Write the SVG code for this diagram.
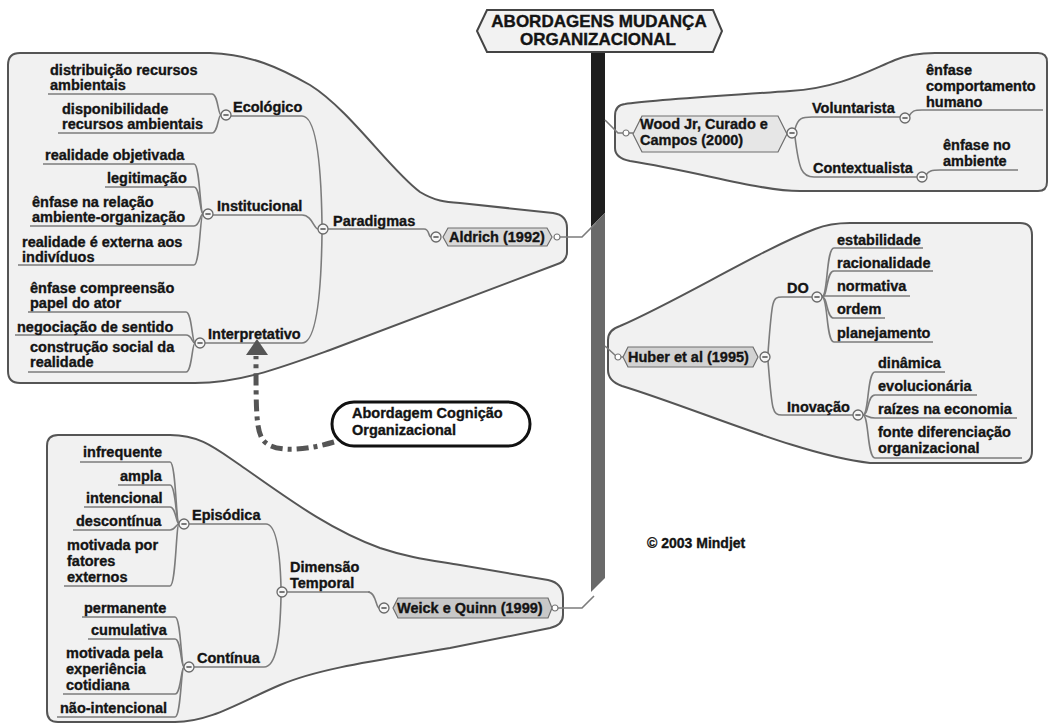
<svg xmlns="http://www.w3.org/2000/svg" width="1053" height="728" viewBox="0 0 1053 728">
<defs>
<style>
.t{font-family:"Liberation Sans",Arial,sans-serif;font-weight:bold;font-size:14.5px;fill:#141414;stroke:#141414;stroke-width:0.35}
.ttl{font-family:"Liberation Sans",Arial,sans-serif;font-weight:bold;font-size:17px;fill:#141414;stroke:#141414;stroke-width:0.4}
.grp{fill:#f1f1f1;stroke:#555;stroke-width:2}
.ln{fill:none;stroke:#7c7c7c;stroke-width:1.6}
.hex{stroke:#6e6e6e;stroke-width:1.2}
</style>
<g id="minus"><circle r="5" fill="#f6f6f6" stroke="#6a6a6a" stroke-width="1.3"/><line x1="-2.6" x2="2.6" stroke="#333" stroke-width="1.3"/></g>
<circle id="dot" r="3" fill="#fff" stroke="#777" stroke-width="1.2"/>
</defs>
<rect width="1053" height="728" fill="#fff"/>

<!-- group backgrounds -->
<g id="backgrounds">
<path class="grp" d="M 20,53 H 210 C 250,54 280,68 310,85 C 350,110 390,170 420,192 C 435,201 445,202 460,203 L 553,213 Q 567,215 567,228 V 252 Q 567,262 555,265 L 330,350 C 280,368 240,383 195,383 H 20 Q 8,383 8,371 V 65 Q 8,53 20,53 Z"/>
<path class="grp" d="M 625,104 C 650,100 720,96 790,91 C 840,88 870,70 895,60 C 907,55 918,53 935,53 H 1038 Q 1047,53 1047,62 V 182 Q 1047,191 1038,191 H 800 C 760,191 700,172 630,161 Q 615,158 615,148 V 116 Q 615,105 625,104 Z"/>
<path class="grp" d="M 620,326 C 680,300 760,250 815,229 Q 830,223 850,223 H 1020 Q 1032,223 1032,235 V 451 Q 1032,463 1020,463 H 870 C 800,455 700,410 622,386 Q 608,381 608,370 V 340 Q 608,330 620,326 Z"/>
<path class="grp" d="M 58,435 H 170 C 200,435 215,448 240,465 C 290,500 330,530 380,548 C 410,558 430,560 460,565 L 548,580 Q 563,583 563,598 V 615 Q 563,625 550,628 L 450,648 C 380,660 320,668 280,685 C 240,702 210,722 175,722 H 58 Q 47,722 47,711 V 446 Q 47,435 58,435 Z"/>
</g>

<!-- central trunk -->
<g id="trunk">
<polygon points="591,50 605,50 605,213 591,227" fill="#1e1e1e"/>
<polygon points="591,227 605,213 605,578 591,592" fill="#6a6a6a"/>
</g>

<g id="connectors" class="ln">
<!-- trunk links -->
<path d="M 560,237 H 582 L 596,223"/>
<path d="M 605,120 L 618,133 H 623"/>
<path d="M 605,346 L 616,356"/>
<path d="M 558,608 H 582 L 594,596"/>
<!-- Aldrich side -->
<path d="M 328,229 H 424 C 430,229 428,237 431,237"/>
<path d="M 231,116 H 302 C 314,116 321,150 322,224"/>
<path d="M 213,215 H 302 C 312,215 314,229 318,229"/>
<path d="M 205,343 H 302 C 314,343 321,310 322,234"/>
<path d="M 48,94 H 212 C 218,94 218,115 221,115"/>
<path d="M 58,133 H 212 C 218,133 218,115 221,115"/>
<path d="M 43,164 H 194 C 200,164 200,214 203,214"/>
<path d="M 105,187 H 194 C 200,187 200,214 203,214"/>
<path d="M 30,226 H 194 C 200,226 200,214 203,214"/>
<path d="M 18,265 H 194 C 200,265 200,214 203,214"/>
<path d="M 28,312 H 186 C 192,312 192,343 195,343"/>
<path d="M 15,335 H 186 C 192,335 192,343 195,343"/>
<path d="M 28,372 H 186 C 192,372 192,343 195,343"/>
<!-- Wood side -->
<path d="M 629,133 H 633"/>
<path d="M 795,129 C 798,118 802,117 812,117 H 900"/>
<path d="M 795,137 C 799,170 802,177 814,177 H 917"/>
<path d="M 909,116 C 912,111 914,110 922,110 H 1043"/>
<path d="M 926,175 C 929,171 931,170 940,170 H 1018"/>
<!-- Huber side -->
<path d="M 621,357 H 623"/>
<path d="M 768,353 C 772,300 772,297 782,297 H 812"/>
<path d="M 768,361 C 772,410 772,415 782,415 H 853"/>
<path d="M 822,297 C 828,297 826,248 834,248 H 923"/>
<path d="M 822,297 C 828,297 826,271 834,271 H 933"/>
<path d="M 822,296 H 910"/>
<path d="M 822,297 C 828,297 826,318 834,318 H 885"/>
<path d="M 822,297 C 828,297 826,342 834,342 H 933"/>
<path d="M 863,415 C 869,415 867,372 875,372 H 945"/>
<path d="M 863,415 C 869,415 867,395 875,395 H 977"/>
<path d="M 863,415 C 867,415 868,418 875,418 H 1017"/>
<path d="M 863,415 C 869,415 867,458 875,458 H 1022"/>
<!-- Weick side -->
<path d="M 368,592 C 376,592 376,608 379,608"/>
<path d="M 287,592 H 370"/>
<path d="M 189,524 H 266 C 276,524 280,550 281,587"/>
<path d="M 194,667 H 264 C 276,667 280,640 281,597"/>
<path d="M 80,462 H 170 C 176,462 176,524 179,524"/>
<path d="M 118,485 H 170 C 176,485 176,524 179,524"/>
<path d="M 84,507 H 170 C 176,507 176,524 179,524"/>
<path d="M 73,530 H 170 C 175,530 176,524 179,524"/>
<path d="M 64,586 H 170 C 176,586 176,524 179,524"/>
<path d="M 82,617 H 175 C 181,617 181,667 184,667"/>
<path d="M 88,639 H 175 C 181,639 181,667 184,667"/>
<path d="M 63,694 H 175 C 181,694 181,667 184,667"/>
<path d="M 57,717 H 175 C 181,717 181,667 184,667"/>
<!-- dashed relationship arrow -->
<path d="M 334,442 C 300,452 272,452 263,440 C 256,430 256,410 256,356" fill="none" stroke="#555" stroke-width="5" stroke-dasharray="12 5 4 5"/>
<polygon points="257,339 246,355 268,355" fill="#555" stroke="none"/>
</g>

<!-- title -->
<g id="title">
<polygon points="477,31 487,10 713,10 722,31 713,52 487,52" fill="#f2f2f2" stroke="#444" stroke-width="2"/>
<text class="ttl" x="599" y="27" text-anchor="middle">ABORDAGENS MUDANÇA</text>
<text class="ttl" x="598" y="45" text-anchor="middle">ORGANIZACIONAL</text>
</g>

<!-- Aldrich branch -->
<g id="aldrich">
<polygon class="hex" points="443,237 448,228 547,228 552,237 547,246 448,246" fill="#d8d8d8"/>
<text class="t" x="449" y="242">Aldrich (1992)</text>
<use href="#minus" x="436" y="237"/>
<use href="#dot" x="557" y="237"/>
</g>
<g id="paradigmas"><text class="t" x="333" y="226">Paradigmas</text><use href="#minus" x="323" y="229"/></g>
<g id="ecologico"><text class="t" x="233" y="112">Ecológico</text><use href="#minus" x="226" y="115"/></g>
<g id="distribuicao"><text class="t" x="50" y="75">distribuição recursos</text><text class="t" x="50" y="90">ambientais</text></g>
<g id="disponibilidade"><text class="t" x="62" y="114">disponibilidade</text><text class="t" x="62" y="129">recursos ambientais</text></g>
<g id="institucional"><text class="t" x="217" y="211">Institucional</text><use href="#minus" x="208" y="214"/></g>
<g id="realidade-objetivada"><text class="t" x="45" y="160">realidade objetivada</text></g>
<g id="legitimacao"><text class="t" x="107" y="183">legitimação</text></g>
<g id="enfase-relacao"><text class="t" x="32" y="207">ênfase na relação</text><text class="t" x="32" y="222">ambiente-organização</text></g>
<g id="realidade-externa"><text class="t" x="22" y="247">realidade é externa aos</text><text class="t" x="22" y="262">indivíduos</text></g>
<g id="interpretativo"><text class="t" x="208" y="339">Interpretativo</text><use href="#minus" x="200" y="343"/></g>
<g id="enfase-compreensao"><text class="t" x="30" y="293">ênfase compreensão</text><text class="t" x="30" y="308">papel do ator</text></g>
<g id="negociacao"><text class="t" x="17" y="332">negociação de sentido</text></g>
<g id="construcao"><text class="t" x="30" y="352">construção social da</text><text class="t" x="30" y="367">realidade</text></g>

<!-- Cognition bubble -->
<g id="cognicao">
<rect x="332" y="402" width="198" height="44" rx="22" fill="#fff" stroke="#111" stroke-width="3"/>
<text class="t" x="352" y="418">Abordagem Cognição</text>
<text class="t" x="352" y="435">Organizacional</text>
</g>

<!-- Wood branch -->
<g id="wood">
<polygon class="hex" points="633,134 642,116 778,116 787,134 778,152 642,152" fill="#e6e6e6"/>
<text class="t" x="640" y="129">Wood Jr, Curado e</text>
<text class="t" x="640" y="145">Campos (2000)</text>
<use href="#dot" x="626" y="133"/>
<use href="#minus" x="792" y="133"/>
</g>
<g id="voluntarista"><text class="t" x="812" y="113">Voluntarista</text><use href="#minus" x="905" y="118"/></g>
<g id="enfase-comportamento"><text class="t" x="926" y="75">ênfase</text><text class="t" x="926" y="91">comportamento</text><text class="t" x="926" y="107">humano</text></g>
<g id="contextualista"><text class="t" x="813" y="173">Contextualista</text><use href="#minus" x="922" y="177"/></g>
<g id="enfase-ambiente"><text class="t" x="943" y="150">ênfase no</text><text class="t" x="943" y="166">ambiente</text></g>

<!-- Huber branch -->
<g id="huber">
<polygon class="hex" points="623,357 628,347 753,347 758,357 753,367 628,367" fill="#d2d2d2"/>
<text class="t" x="628" y="362">Huber et al (1995)</text>
<use href="#dot" x="618" y="357"/>
<use href="#minus" x="765" y="357"/>
</g>
<g id="do"><text class="t" x="787" y="293">DO</text><use href="#minus" x="817" y="297"/></g>
<g id="estabilidade"><text class="t" x="837" y="245">estabilidade</text></g>
<g id="racionalidade"><text class="t" x="837" y="268">racionalidade</text></g>
<g id="normativa"><text class="t" x="837" y="291">normativa</text></g>
<g id="ordem"><text class="t" x="837" y="314">ordem</text></g>
<g id="planejamento"><text class="t" x="837" y="338">planejamento</text></g>
<g id="inovacao"><text class="t" x="787" y="412">Inovação</text><use href="#minus" x="858" y="415"/></g>
<g id="dinamica"><text class="t" x="878" y="368">dinâmica</text></g>
<g id="evolucionaria"><text class="t" x="878" y="391">evolucionária</text></g>
<g id="raizes"><text class="t" x="878" y="414">raízes na economia</text></g>
<g id="fonte"><text class="t" x="878" y="437">fonte diferenciação</text><text class="t" x="878" y="453">organizacional</text></g>

<!-- Weick branch -->
<g id="weick">
<polygon class="hex" points="393,608 398,598 548,598 552,608 548,618 398,618" fill="#c8c8c8"/>
<text class="t" x="397" y="613">Weick e Quinn (1999)</text>
<use href="#minus" x="384" y="608"/>
<use href="#dot" x="555" y="608"/>
</g>
<g id="dimensao"><text class="t" x="290" y="572">Dimensão</text><text class="t" x="290" y="588">Temporal</text><use href="#minus" x="282" y="592"/></g>
<g id="episodica"><text class="t" x="192" y="520">Episódica</text><use href="#minus" x="184" y="524"/></g>
<g id="infrequente"><text class="t" x="83" y="457">infrequente</text></g>
<g id="ampla"><text class="t" x="120" y="481">ampla</text></g>
<g id="intencional"><text class="t" x="86" y="503">intencional</text></g>
<g id="descontinua"><text class="t" x="76" y="526">descontínua</text></g>
<g id="motivada-fatores"><text class="t" x="67" y="550">motivada por</text><text class="t" x="67" y="566">fatores</text><text class="t" x="67" y="582">externos</text></g>
<g id="continua"><text class="t" x="197" y="663">Contínua</text><use href="#minus" x="189" y="667"/></g>
<g id="permanente"><text class="t" x="84" y="613">permanente</text></g>
<g id="cumulativa"><text class="t" x="91" y="635">cumulativa</text></g>
<g id="motivada-experiencia"><text class="t" x="66" y="658">motivada pela</text><text class="t" x="66" y="674">experiência</text><text class="t" x="66" y="690">cotidiana</text></g>
<g id="nao-intencional"><text class="t" x="60" y="713">não-intencional</text></g>

<g id="copyright"><text class="t" x="647" y="548" style="font-size:14px">© 2003 Mindjet</text></g>
</svg>
